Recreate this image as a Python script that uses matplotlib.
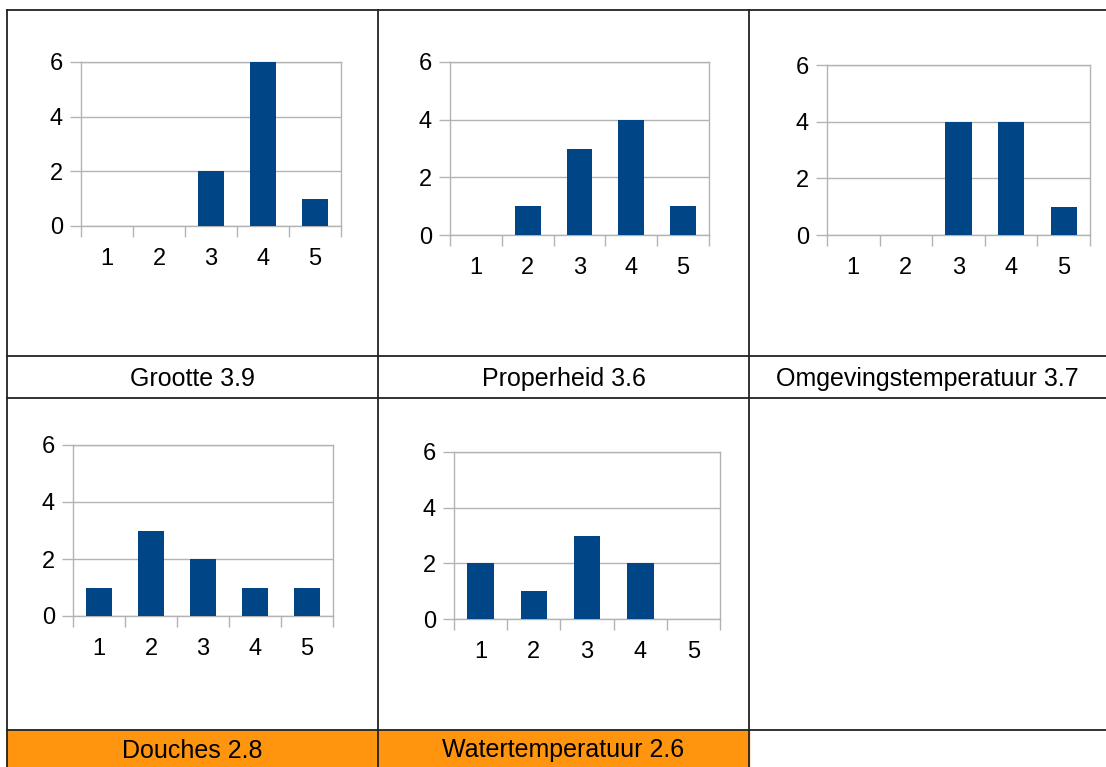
import matplotlib.pyplot as plt
from matplotlib.patches import Rectangle

plt.rcParams['font.family'] = ['Liberation Sans', 'DejaVu Sans']

# data
scores = [1, 2, 3, 4, 5]
grootte = [0, 0, 2, 6, 1]
properheid = [0, 1, 3, 4, 1]
omgevingstemperatuur = [0, 0, 4, 4, 1]
douches = [1, 3, 2, 1, 1]
watertemperatuur = [2, 1, 3, 2, 0]

titles = ['Grootte 3.9', 'Properheid 3.6', 'Omgevingstemperatuur 3.7',
          'Douches 2.8', 'Watertemperatuur 2.6']
series = [grootte, properheid, omgevingstemperatuur, douches, watertemperatuur]
highlighted = [False, False, False, True, True]

W, H = 1106, 767
BAR = '#004586'
GRID = '#b3b3b3'
ORANGE = '#ff950e'
LINE = '#222222'

fig = plt.figure(figsize=(W / 100, H / 100), dpi=100)

# background axes in pixel coordinates for the table
bg = fig.add_axes([0, 0, 1, 1])
bg.set_xlim(0, W)
bg.set_ylim(H, 0)
bg.axis('off')

col_x = [7, 378, 749, W]
label_rows = [(356, 398), (730, 767)]

# label cells
for i, title in enumerate(titles):
    r, c = divmod(i, 3)
    y0, y1 = label_rows[r]
    x0, x1 = col_x[c], col_x[c + 1]
    if highlighted[i]:
        bg.add_patch(Rectangle((x0, y0), x1 - x0, y1 - y0, color=ORANGE, zorder=1))
    bg.text((x0 + x1) / 2, (y0 + y1) / 2 + 2, title, ha='center', va='center',
            fontsize=18, color='black', zorder=3)

for y in [10, 356, 398, 730]:
    bg.plot([7, W], [y, y], color=LINE, lw=1.3, zorder=2)
for x in col_x[:3]:
    bg.plot([x, x], [10, H], color=LINE, lw=1.3, zorder=2)

# chart boxes: left, top, right, bottom in pixels
boxes = [(81, 62, 341, 226),
         (450, 62, 709, 235),
         (827, 65, 1090, 235),
         (73, 445, 333, 616),
         (454, 452, 720, 619)]

for vals, (l, t, r, b) in zip(series, boxes):
    ax = fig.add_axes([l / W, 1 - b / H, (r - l) / W, (b - t) / H])
    ax.bar(scores, vals, width=0.5, color=BAR, zorder=3)
    ax.set_xlim(0.5, 5.5)
    ax.set_ylim(0, 6)
    ax.set_yticks([0, 2, 4, 6])
    ax.set_xticks(scores)
    ax.set_xticks([s + 0.5 for s in [0] + scores], minor=True)
    ax.grid(axis='y', color=GRID, lw=1, zorder=0)
    for sp in ax.spines.values():
        sp.set_color(GRID)
        sp.set_linewidth(1)
    ax.tick_params(axis='x', which='major', length=0, pad=16, labelsize=17)
    ax.tick_params(axis='x', which='minor', length=8, width=1, color=GRID)
    ax.tick_params(axis='y', length=8, width=1, color=GRID, pad=5, labelsize=17)

fig.savefig('out.png', dpi=100)
